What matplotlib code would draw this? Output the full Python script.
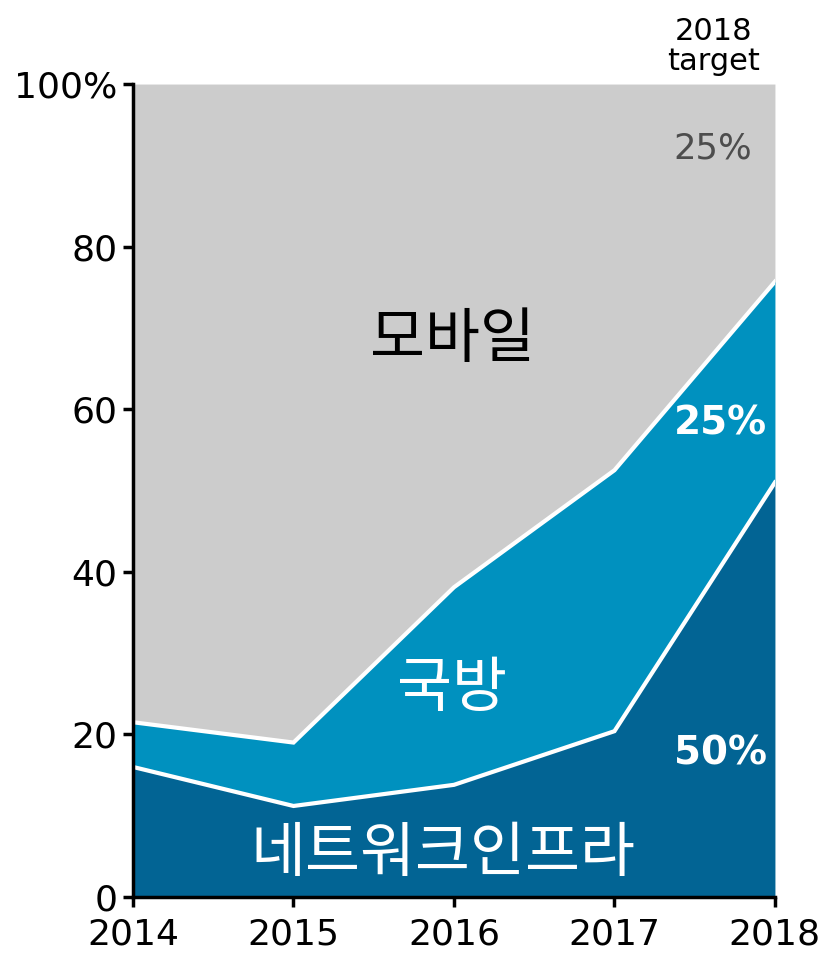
import matplotlib.pyplot as plt
import numpy as np

years = [2014, 2015, 2016, 2017, 2018]
infra = [16, 11.2, 13.8, 20.4, 51]      # 네트워크인프라
defense = [5.5, 7.8, 24.3, 32.1, 24.7]  # 국방
yticks = [0, 20, 40, 60, 80, 100]
ytick_labels = ['0', '20', '40', '60', '80', '100%']

c_infra = '#026494'
c_def = '#0091bf'
c_mob = '#cccccc'

kr_font = ['Noto Sans CJK KR', 'DejaVu Sans']

fig = plt.figure(figsize=(8.23, 9.55), dpi=100)
ax = fig.add_axes([0.1616, 0.0607, 0.780, 0.8513])

x = np.array(years)
lower = np.array(infra)
upper = lower + np.array(defense)

ax.fill_between(x, 0, lower, color=c_infra, lw=0)
ax.fill_between(x, lower, upper, color=c_def, lw=0)
ax.fill_between(x, upper, 100, color=c_mob, lw=0)
ax.plot(x, lower, color='white', lw=3, solid_joinstyle='miter')
ax.plot(x, upper, color='white', lw=3, solid_joinstyle='miter')

ax.set_xlim(2014, 2018)
ax.set_ylim(0, 100)
ax.set_xticks(years)
ax.set_xticklabels([str(y) for y in years], fontsize=26)
ax.set_yticks(yticks)
ax.set_yticklabels(ytick_labels, fontsize=26)
for s in ['top', 'right']:
    ax.spines[s].set_visible(False)
for s in ['left', 'bottom']:
    ax.spines[s].set_linewidth(2.5)
ax.tick_params(length=7, width=2.5)
ax.tick_params(axis='x', pad=8)
ax.tick_params(axis='y', pad=4)

# labels inside areas
ax.text(2015.99, 68.5, '모바일', family=kr_font, fontsize=43, ha='center', va='center', color='black')
ax.text(2015.99, 25.5, '국방', family=kr_font, fontsize=43, ha='center', va='center', color='white')
ax.text(2015.93, 5.2, '네트워크인프라', family=kr_font, fontsize=43, ha='center', va='center', color='white')

ax.text(2017.61, 92.1, '25%', fontsize=25.5, ha='center', va='center', color='#4d4d4d')
ax.text(2017.66, 58.3, '25%', fontsize=28, fontweight='bold', ha='center', va='center', color='white')
ax.text(2017.66, 17.7, '50%', fontsize=28, fontweight='bold', ha='center', va='center', color='white')

ax.text(2017.62, 101.0, '2018\ntarget', fontsize=22, ha='center', va='bottom',
        color='black', linespacing=1.05)

fig.savefig('out.png', dpi=100)
